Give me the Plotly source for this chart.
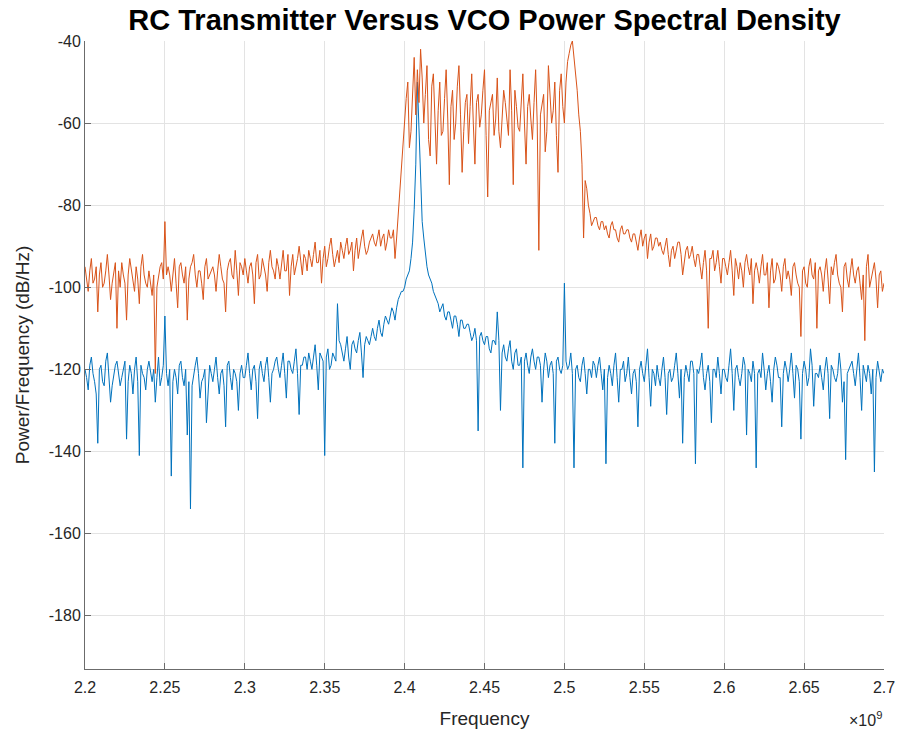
import numpy as np
import plotly.graph_objects as go

# Frequency grid (GHz, shown with x10^9 multiplier), 1 MHz spacing
f_start = 2.2
f_stop = 2.7
n_pts = 501
freq = np.linspace(f_start, f_stop, n_pts)

rc_transmitter = [
    -95, -98, -101, -96, -93, -99, -98, -95, -106, -97, -94, -100, -99, -96, -92, -97, -103, -99, -96, -94,
    -110, -96, -100, -94, -97, -99, -108, -97, -93, -96, -98, -101, -95, -98, -104, -95, -92, -97, -99, -100,
    -96, -99, -102, -97, -121, -100, -97, -95, -94, -98, -84, -97, -95, -97, -101, -96, -93, -99, -105, -95,
    -94, -97, -99, -95, -108, -98, -95, -94, -92, -97, -100, -96, -96, -99, -103, -95, -93, -98, -97, -96,
    -95, -97, -101, -96, -92, -95, -98, -99, -106, -96, -94, -93, -97, -98, -91, -96, -102, -94, -95, -97,
    -93, -96, -99, -95, -94, -97, -104, -94, -92, -98, -97, -93, -95, -97, -101, -94, -91, -95, -96, -98,
    -93, -95, -98, -94, -91, -96, -96, -92, -102, -95, -92, -97, -95, -93, -90, -94, -97, -92, -93, -96,
    -91, -93, -95, -92, -89, -94, -94, -91, -99, -93, -90, -95, -93, -90, -88, -92, -95, -93, -91, -94,
    -89, -91, -93, -90, -88, -92, -91, -89, -96, -91, -88, -93, -90, -88, -86, -90, -92, -91, -89, -88,
    -87, -89, -90, -88, -86, -90, -88, -87, -91, -89, -86, -88, -88, -86, -93, -88, -82, -78, -72, -64,
    -58, -54, -50, -66, -62, -52, -44, -58, -47, -55, -42, -49, -60, -53, -46, -64, -68, -51, -48, -59,
    -70, -57, -50, -63, -62, -54, -47, -59, -75, -56, -52, -64, -60, -51, -46, -58, -72, -62, -55, -53,
    -65, -56, -48, -60, -70, -55, -53, -61, -58, -52, -47, -63, -78, -57, -55, -53, -63, -59, -49, -62,
    -66, -58, -52, -55, -60, -63, -47, -57, -75, -52, -56, -61, -62, -54, -48, -60, -70, -56, -53, -59,
    -64, -55, -47, -60, -91, -58, -55, -53, -67, -62, -46, -54, -60, -57, -50, -63, -72, -52, -48, -56,
    -60, -50, -45, -43, -41, -40, -44, -48, -52, -58, -62, -70, -88, -74, -76, -80, -82, -85, -84, -83,
    -83, -85, -86, -84, -84, -86, -85, -87, -88, -85, -84, -86, -86, -88, -89, -86, -85, -87, -87, -86,
    -86, -88, -89, -87, -87, -89, -91, -88, -86, -90, -88, -87, -93, -89, -87, -91, -90, -88, -88, -90,
    -89, -91, -92, -90, -88, -92, -95, -91, -90, -93, -91, -89, -89, -92, -97, -94, -91, -90, -93, -92,
    -90, -93, -95, -92, -92, -95, -98, -94, -91, -96, -110, -93, -93, -91, -96, -94, -91, -95, -99, -93,
    -93, -95, -97, -94, -91, -96, -102, -93, -95, -98, -94, -96, -100, -94, -92, -95, -97, -93, -104, -96,
    -94, -96, -99, -95, -92, -97, -97, -94, -105, -96, -93, -99, -98, -94, -95, -97, -101, -95, -93, -98,
    -96, -98, -102, -95, -94, -97, -99, -100, -112, -96, -95, -99, -100, -95, -93, -97, -98, -94, -110, -96,
    -95, -97, -101, -96, -93, -98, -104, -95, -97, -94, -92, -97, -99, -100, -106, -95, -94, -98, -100, -96,
    -93, -97, -99, -96, -95, -99, -103, -97, -113, -95, -92, -100, -98, -96, -94, -98, -105, -97, -96, -101,
    -99,
]

vco = [
    -120, -122, -125, -119, -117, -121, -123, -126, -138, -120, -119, -123, -124, -118, -116, -122, -128, -124, -121, -119,
    -118, -121, -124, -122, -120, -118, -137, -123, -119, -121, -126, -120, -117, -123, -141, -119, -121, -122, -125, -120,
    -118, -121, -123, -120, -128, -122, -117, -124, -122, -119, -107, -121, -124, -120, -146, -123, -120, -122, -126, -119,
    -118, -122, -124, -120, -136, -123, -154, -124, -121, -119, -117, -121, -127, -123, -122, -120, -133, -124, -119, -121,
    -123, -120, -117, -122, -126, -121, -120, -124, -134, -119, -118, -122, -125, -120, -121, -123, -130, -121, -119, -122,
    -122, -119, -116, -121, -125, -120, -119, -123, -132, -120, -118, -121, -123, -119, -117, -122, -128, -121, -120, -118,
    -117, -120, -122, -119, -116, -121, -127, -118, -118, -120, -121, -118, -115, -121, -131, -119, -119, -117, -117, -120,
    -116, -118, -120, -117, -114, -119, -125, -116, -117, -118, -141, -117, -115, -120, -119, -116, -117, -118, -104, -113,
    -114, -116, -118, -115, -112, -117, -120, -114, -113, -115, -116, -113, -111, -116, -122, -114, -112, -113, -114, -112,
    -110, -112, -113, -110, -108, -111, -112, -109, -107, -108, -109, -107, -105, -106, -108, -105, -103, -102, -101, -101,
    -100, -98, -97, -96, -93, -89, -81, -70, -50, -62, -76, -84, -88, -92, -95, -97, -98, -99, -101, -102,
    -103, -104, -106, -105, -104, -107, -108, -106, -106, -108, -110, -107, -107, -109, -112, -108, -108, -110, -110, -109,
    -109, -111, -113, -112, -110, -113, -135, -112, -111, -113, -114, -112, -112, -115, -116, -113, -113, -114, -106, -113,
    -130, -116, -114, -117, -118, -115, -113, -118, -120, -116, -115, -119, -119, -117, -144, -118, -116, -119, -121, -117,
    -115, -118, -120, -117, -117, -119, -128, -120, -116, -118, -122, -119, -118, -121, -138, -118, -117, -120, -121, -119,
    -99, -118, -120, -119, -116, -121, -144, -120, -119, -122, -123, -119, -117, -121, -126, -120, -120, -122, -118, -119,
    -122, -119, -117, -121, -125, -120, -143, -122, -119, -121, -124, -119, -116, -122, -128, -120, -120, -118, -123, -121,
    -117, -122, -126, -121, -120, -123, -134, -120, -118, -121, -123, -119, -115, -122, -129, -120, -121, -124, -119, -122,
    -124, -120, -117, -122, -131, -121, -120, -123, -122, -119, -116, -121, -127, -120, -138, -122, -119, -121, -123, -118,
    -118, -121, -143, -120, -121, -119, -116, -122, -125, -121, -119, -123, -133, -120, -120, -122, -117, -121, -126, -120,
    -120, -122, -123, -119, -115, -121, -130, -120, -119, -122, -124, -121, -117, -119, -136, -120, -121, -123, -118, -121,
    -144, -121, -120, -122, -116, -120, -125, -121, -119, -123, -128, -120, -117, -119, -122, -122, -134, -121, -118, -120,
    -123, -120, -116, -121, -127, -119, -120, -123, -137, -121, -118, -120, -124, -122, -115, -119, -129, -121, -121, -122,
    -119, -122, -125, -120, -117, -121, -132, -119, -120, -122, -123, -121, -116, -120, -128, -123, -142, -121, -120, -119,
    -118, -121, -124, -120, -116, -122, -130, -119, -121, -123, -119, -121, -126, -120, -145, -122, -118, -121, -123, -120,
    -121,
]

x_tick_vals = [2.2, 2.25, 2.3, 2.35, 2.4, 2.45, 2.5, 2.55, 2.6, 2.65, 2.7]
x_tick_text = ["2.2", "2.25", "2.3", "2.35", "2.4", "2.45", "2.5", "2.55", "2.6", "2.65", "2.7"]
y_tick_vals = [-180, -160, -140, -120, -100, -80, -60, -40]
y_tick_text = ["-180", "-160", "-140", "-120", "-100", "-80", "-60", "-40"]

BLUE = "#0072BD"
RED = "#D95319"
FONT = "Liberation Sans, Arial, sans-serif"

fig = go.Figure()
fig.add_trace(go.Scatter(x=freq, y=vco, mode="lines", name="VCO",
                         line=dict(color=BLUE, width=1.0)))
fig.add_trace(go.Scatter(x=freq, y=rc_transmitter, mode="lines", name="RC Transmitter",
                         line=dict(color=RED, width=1.0)))

axis_common = dict(
    showgrid=True, gridcolor="#e3e3e3", gridwidth=1,
    showline=True, linecolor="#6b6b6b", linewidth=1,
    ticks="inside", ticklen=6, tickcolor="#6b6b6b",
    zeroline=False, mirror=False, automargin=False,
    tickfont=dict(family=FONT, size=16, color="#262626"),
)

fig.update_layout(
    width=899, height=731,
    margin=dict(l=85, r=15, t=41, b=62),
    paper_bgcolor="white", plot_bgcolor="white",
    showlegend=False,
    title=dict(text="<b>RC Transmitter Versus VCO Power Spectral Density</b>",
               x=0.5, xref="paper", xanchor="center",
               y=1 - 20 / 731, yref="container", yanchor="middle",
               font=dict(family=FONT, size=29, color="black")),
    xaxis=dict(range=[f_start, f_stop], tickvals=x_tick_vals, ticktext=x_tick_text,
               ticklabelstandoff=4,
               title=dict(text="Frequency", font=dict(family=FONT, size=19, color="#262626"),
                          standoff=16),
               **axis_common),
    yaxis=dict(range=[-193, -40], tickvals=y_tick_vals, ticktext=y_tick_text,
               title=dict(text="Power/Frequency (dB/Hz)",
                          font=dict(family=FONT, size=19, color="#262626"),
                          standoff=14),
               **axis_common),
)

fig.add_annotation(text="×10<sup>9</sup>", xref="paper", yref="paper",
                   x=1.0, y=0, xanchor="right", yanchor="top", yshift=-38,
                   showarrow=False, font=dict(family=FONT, size=16, color="#262626"))

fig.write_html("out.html")
